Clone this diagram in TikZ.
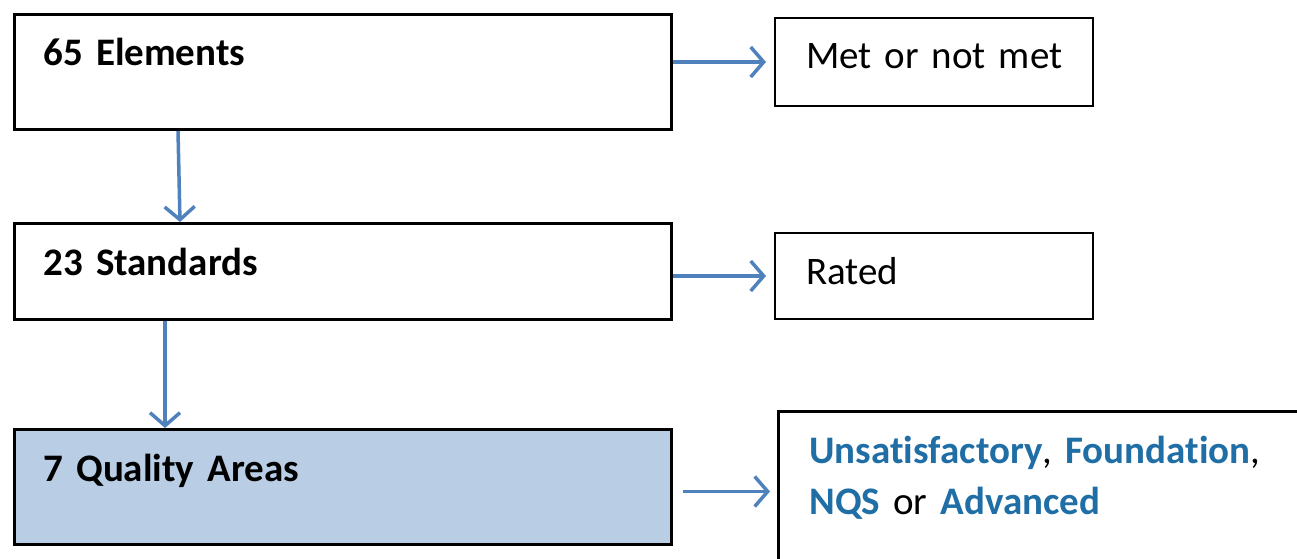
\documentclass[tikz,border=0pt]{standalone}
\usepackage{fontspec}
\setmainfont[Ligatures=NoCommon]{Carlito}
\usepackage{tikz}
\usetikzlibrary{arrows.meta,calc,positioning}
\definecolor{flowblue}{RGB}{79,129,189}
\definecolor{areafill}{RGB}{185,205,229}
\definecolor{ratingblue}{RGB}{31,110,165}
\newcommand{\rating}[1]{\textcolor{ratingblue}{\bfseries #1}}
\newcommand{\boxfont}{\fontsize{39}{51}\selectfont}

\begin{document}
\begin{tikzpicture}[x=1pt,y=-1pt]
  \tikzstyle{level} = [draw,line width=3pt,anchor=north west,align=left,inner xsep=29pt,inner ysep=0pt,text width=599pt,font=\boxfont\bfseries]
  \tikzstyle{outcome} = [draw,line width=2pt,anchor=north west,align=left,inner xsep=31pt,inner ysep=0pt,font=\boxfont]
  \tikzstyle{flow} = [-{Straight Barb[length=13pt,width=30pt]},draw=flowblue,line width=3.5pt]
  %
  \useasboundingbox (0,0) rectangle (1297,558);
  \clip (0,0) rectangle (1297,558);
  % Left column.
  \node[level,text height=51pt,text depth=64pt] (elements) at (13,13) {65 Elements};
  \node[level,text height=52pt,text depth=44pt] (standards) at (13,222) {23 Standards};
  \node[level,fill=areafill,text height=52pt,text depth=63pt] (areas) at (13,428) {7 Quality Areas};
  % Right column.
  \node[outcome,text width=256pt,text height=50pt,text depth=38pt] (metnot) at (774,17) {\mbox{Met or not met}};
  \node[outcome,text width=256pt,text height=51pt,text depth=35pt] (rated) at (774,232) {Rated};
  \node[outcome,line width=3pt,text width=500pt,text height=52pt,text depth=108pt] (ratings) at (777,410)
    {\rating{Unsatisfactory}, \rating{Foundation},\\ \rating{NQS} or \rating{Advanced}};
  % Arrows.
  \draw[flow] ([xshift=165pt]elements.south west) -- ([xshift=167pt]standards.north west);
  \draw[flow] ([xshift=152pt]standards.south west) -- ([xshift=152pt]areas.north west);
  \draw[flow] (elements.east |- metnot.west) -- ([xshift=-8pt]metnot.west);
  \draw[flow] (standards.east |- rated.west) -- ([xshift=-8pt]rated.west);
  \draw[flow] ([xshift=10pt]areas.east |- ratings.west) -- ([xshift=-7pt]ratings.west);
\end{tikzpicture}
\end{document}
